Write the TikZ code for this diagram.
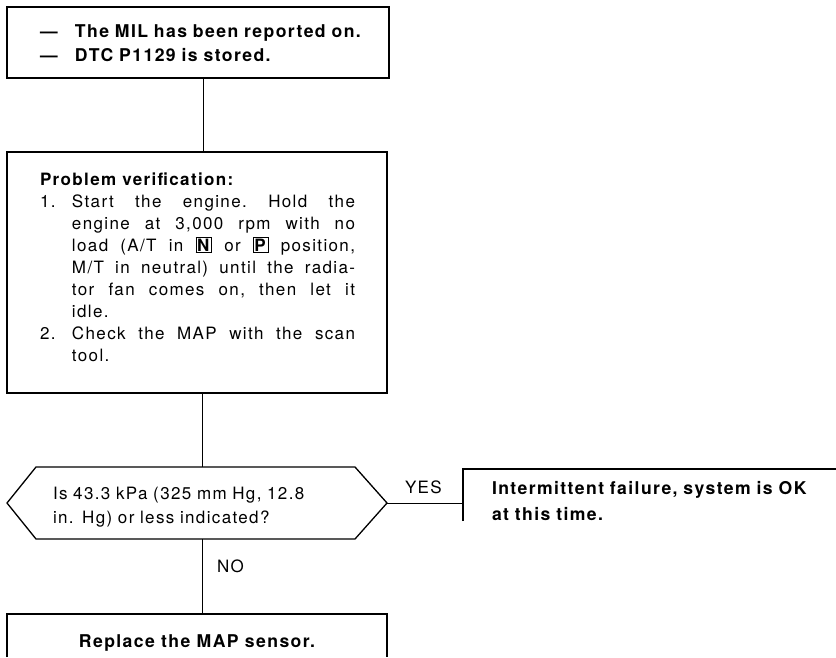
\documentclass[tikz,border=0pt]{standalone}
\usepackage{fontspec}
\setmainfont{TeX Gyre Heros}[LetterSpace=8]
\newcommand\keybox[1]{{\setlength\fboxsep{0.6pt}\setlength\fboxrule{0.8pt}\fbox{\textbf{#1}}}}
\begin{document}
\begin{tikzpicture}[x=1pt,y=-1pt,
  box/.style={draw,line width=1.3pt,inner sep=0pt,outer sep=0pt},
  ghost/.style={inner sep=0pt,outer sep=0pt},
  conn/.style={line width=1pt},
  txt/.style={inner sep=0pt,outer sep=0pt,font=\fontsize{17}{22}\selectfont},
  btxt/.style={inner sep=0pt,outer sep=0pt,font=\fontsize{17.6}{24}\selectfont\bfseries}]
\useasboundingbox (0,0) rectangle (836,657);
\fill[white] (0,0) rectangle (836,657);

% boxes
\node[box,minimum width=382pt,minimum height=71pt] (b1) at (198,42.5) {};
\node[box,minimum width=380pt,minimum height=241pt] (b2) at (197,272.5) {};
\node[ghost,minimum width=380pt,minimum height=72pt] (dec) at (197,503) {};
\draw[line width=1.3pt,line join=miter] (dec.west) -- ([xshift=29pt]dec.north west) -- ([xshift=-32pt]dec.north east) -- (dec.east) -- ([xshift=-32pt]dec.south east) -- ([xshift=29pt]dec.south west) -- cycle;
\node[ghost,minimum width=373pt,minimum height=52pt] (res) at (649.5,495) {};
\draw[line width=1.3pt] (res.south west) -- (res.north west) -- (res.north east);
\node[ghost,minimum width=380pt,minimum height=43pt] (bb) at (197,635.5) {};
\draw[line width=1.3pt] (bb.south west) -- (bb.north west) -- (bb.north east) -- (bb.south east);

% spines
\coordinate (sp1) at (203,0);
\coordinate (sp2) at (202,0);

% connectors
\draw[conn] (b1.south -| sp1) -- (b2.north -| sp1);
\draw[conn] (b2.south -| sp2) -- (dec.north -| sp2);
\draw[conn] (dec.east) -- (dec.east -| res.west);
\draw[conn] (dec.south -| sp2) -- (bb.north -| sp2);

% texts
\node[btxt,anchor=north west,text width=340pt,align=left] (t1) at (40,24.4)
  {\makebox[35pt][l]{—}The MIL has been reported on.\\\makebox[35pt][l]{—}DTC P1129 is stored.};

\node[txt,anchor=north west,text width=315pt,align=justify] (t2) at (40,172.6)
  {\parindent=0pt\frenchspacing\textbf{Problem verification:}\par
   \hangindent=32pt\hangafter=1\noindent\makebox[32pt][l]{1.}Start the engine. Hold the\linebreak
   engine at 3,000 rpm with no\linebreak
   load (A/T in \keybox{N} or \keybox{P} position,\linebreak
   M/T in neutral) until the radia-\linebreak
   tor fan comes on, then let it\linebreak
   idle.\par
   \hangindent=32pt\hangafter=1\noindent\makebox[32pt][l]{2.}Check the MAP with the scan\linebreak
   tool.\par};

\node[txt,anchor=north west,text width=300pt,align=left,font=\fontsize{17}{24}\selectfont] (t3) at (53,486.6)
  {Is 43.3 kPa (325 mm Hg, 12.8\\in. Hg) or less indicated?};

\node[txt,anchor=base west] (yes) at (405,493) {YES};
\node[txt,anchor=base west] (no) at (217,572) {NO};

\node[btxt,anchor=north west,text width=340pt,align=left,font=\fontsize{17.6}{26}\selectfont\bfseries] (t4) at (492,481.4)
  {Intermittent failure, system is OK\\at this time.};

\node[btxt,anchor=base] (t5) at (197,647) {Replace the MAP sensor.};
\end{tikzpicture}
\end{document}
